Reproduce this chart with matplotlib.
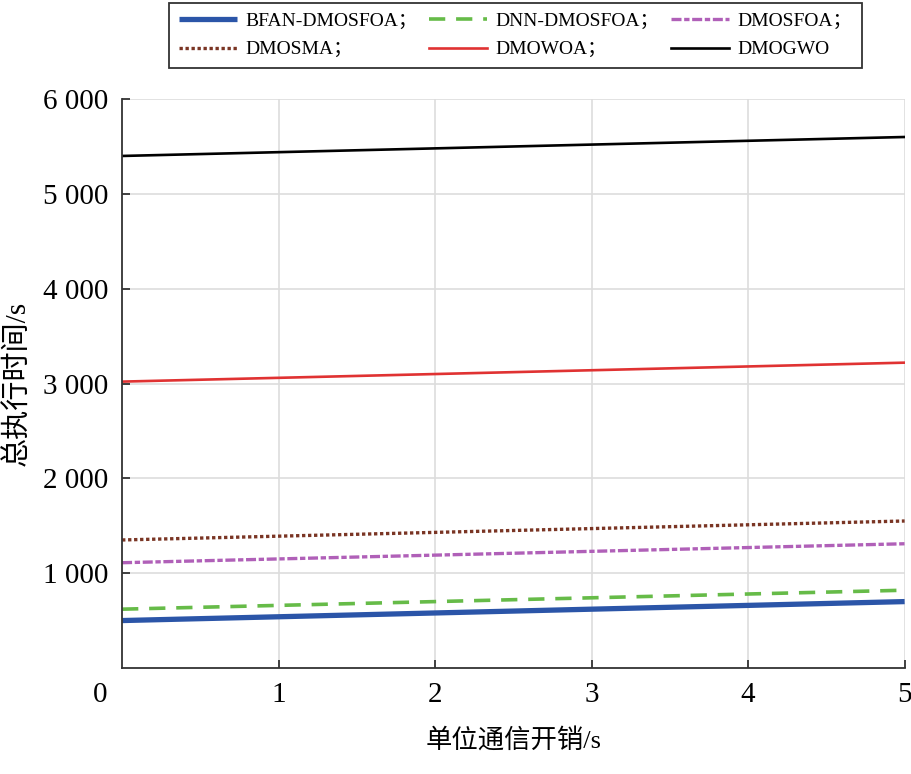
import numpy as np
import matplotlib
matplotlib.use("Agg")
import matplotlib.pyplot as plt
from matplotlib.ticker import FuncFormatter

plt.rcParams['font.family'] = ['Liberation Serif', 'Noto Sans CJK SC', 'DejaVu Sans']

# data
comm_cost = [0, 1, 2, 3, 4, 5]
bfan_dmosfoa = [500, 540, 580, 620, 660, 700]
dnn_dmosfoa = [620, 660, 700, 740, 780, 820]
dmosfoa = [1110, 1150, 1190, 1230, 1270, 1310]
dmosma = [1350, 1390, 1430, 1470, 1510, 1550]
dmowoa = [3020, 3060, 3100, 3140, 3180, 3220]
dmogwo = [5400, 5440, 5480, 5520, 5560, 5600]

labels = ['BFAN-DMOSFOA；', 'DNN-DMOSFOA；', 'DMOSFOA；',
          'DMOSMA；', 'DMOWOA；', 'DMOGWO']
y_ticks = [1000, 2000, 3000, 4000, 5000, 6000]
x_ticks = [1, 2, 3, 4, 5]

fig = plt.figure(figsize=(9.11, 7.74), dpi=100)
ax = fig.add_axes([0.134, 0.137, 0.859, 0.735])

lines = []
lines += ax.plot(comm_cost, bfan_dmosfoa, color='#2b55a8', lw=3.8, solid_capstyle='butt')
lines += ax.plot(comm_cost, dnn_dmosfoa, color='#66bb48', lw=2.6, dashes=(4.5, 3))
lines += ax.plot(comm_cost, dmosfoa, color='#b060b8', lw=2.4, dashes=(3, 0.8, 1.6, 0.8))
lines += ax.plot(comm_cost, dmosma, color='#7a3524', lw=2.4, dashes=(1, 0.8))
lines += ax.plot(comm_cost, dmowoa, color='#e03232', lw=1.9)
lines += ax.plot(comm_cost, dmogwo, color='black', lw=1.9)

ax.set_xlim(0, 5)
ax.set_ylim(0, 6000)
ax.set_xticks(x_ticks)
ax.set_yticks(y_ticks)
ax.yaxis.set_major_formatter(FuncFormatter(lambda v, p: f'{int(v):,}'.replace(',', ' ')))
ax.grid(True, color='#dddddd', lw=1.2)
ax.set_axisbelow(True)
for s in ['top', 'right']:
    ax.spines[s].set_visible(False)
for s in ['left', 'bottom']:
    ax.spines[s].set_color('#333333')
    ax.spines[s].set_linewidth(1.3)
ax.tick_params(direction='in', length=6, width=1.3, labelsize=21, pad=10, color='#333333')
ax.annotate('0', xy=(0, 0), xycoords='axes fraction', xytext=(-16, -10),
            textcoords='offset points', fontsize=21, ha='center', va='top')

ax.set_xlabel('单位通信开销/s', fontsize=19, labelpad=14)
ax.set_ylabel('总执行时间/s', fontsize=21, labelpad=8)

# matplotlib fills legend columns first, reorder so rows read like the reference
order = [0, 3, 1, 4, 2, 5]
leg = fig.legend([lines[i] for i in order], [labels[i] for i in order],
                 loc='upper center', bbox_to_anchor=(0.566, 0.999), ncol=3,
                 fontsize=14, frameon=True, fancybox=False, edgecolor='black',
                 handlelength=3.0, columnspacing=0.55, borderpad=0.5, labelspacing=0.55,
                 handletextpad=0.45, borderaxespad=0.1)
leg.get_frame().set_linewidth(1.3)

fig.savefig('out.png', dpi=100)
